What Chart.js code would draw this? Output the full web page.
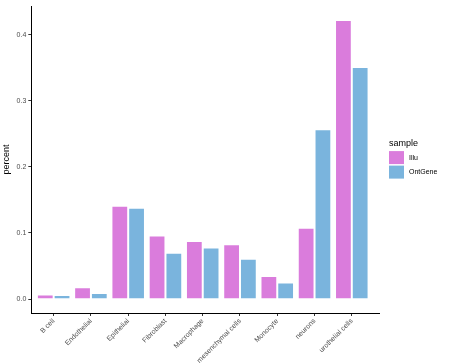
<!DOCTYPE html>
<html>
<head>
<meta charset="utf-8">
<script src="https://cdn.jsdelivr.net/npm/chart.js@4.4.1/dist/chart.umd.min.js"></script>
<style>
  html, body { margin: 0; padding: 0; background: #fff; }
  #wrap { width: 449px; height: 364px; }
</style>
</head>
<body>
<div id="wrap"><canvas id="chart" width="449" height="364"></canvas></div>
<script>
// data
const categories = ["B cell", "Endothelial", "Epithelial", "Fibroblast", "Macrophage",
  "mesenchymal cells", "Monocyte", "neurons", "urothelial cells"];
const illu = [0.007, 0.018, 0.141, 0.096, 0.088, 0.083, 0.035, 0.108, 0.422];
const ontGene = [0.006, 0.009, 0.138, 0.070, 0.078, 0.061, 0.025, 0.257, 0.351];
const yTicks = [0.0, 0.1, 0.2, 0.3, 0.4];

const colIllu = "#da7cdc";
const colOnt = "#7ab4dd";

// legend drawn at the right, like ggplot's guide
const sideLegend = {
  id: "sideLegend",
  afterDraw(chart) {
    const ctx = chart.ctx;
    const area = chart.chartArea;
    const x = area.right + 10;
    const mid = (area.top + area.bottom) / 2;
    let y = mid - 20;
    ctx.save();
    ctx.fillStyle = "#000";
    ctx.font = "9px 'Liberation Sans', Arial, sans-serif";
    ctx.textBaseline = "middle";
    ctx.textAlign = "left";
    ctx.fillText("sample", x, y + 4);
    y += 11;
    chart.data.datasets.forEach(ds => {
      ctx.fillStyle = ds.backgroundColor;
      ctx.fillRect(x, y + 0.5, 15, 13);
      ctx.fillStyle = "#000";
      ctx.font = "7px 'Liberation Sans', Arial, sans-serif";
      ctx.fillText(ds.label, x + 20, y + 7);
      y += 14.5;
    });
    ctx.restore();
  }
};

new Chart(document.getElementById("chart"), {
  type: "bar",
  data: {
    datasets: [
      {
        label: "Illu",
        data: categories.map((c, i) => ({ x: i, y: illu[i] })),
        backgroundColor: colIllu,
        borderColor: "rgba(255,255,255,0.25)",
        borderWidth: 1
      },
      {
        label: "OntGene",
        data: categories.map((c, i) => ({ x: i, y: ontGene[i] })),
        backgroundColor: colOnt,
        borderColor: "rgba(255,255,255,0.25)",
        borderWidth: 1
      }
    ]
  },
  options: {
    responsive: false,
    animation: false,
    devicePixelRatio: 1,
    layout: { padding: { top: 5, right: 70, left: 0, bottom: 0 } },
    categoryPercentage: 0.9,
    barPercentage: 1.0,
    plugins: {
      legend: { display: false },
      tooltip: { enabled: false }
    },
    scales: {
      x: {
        type: "linear",
        offset: false,
        min: -0.6,
        max: 8.73,
        afterBuildTicks: s => { s.ticks = categories.map((c, i) => ({ value: i })); },
        afterFit: s => { s.height = 51; },
        grid: { offset: false, drawOnChartArea: false, drawTicks: true, tickLength: 3, tickColor: "#333" },
        border: { color: "#000", width: 1 },
        ticks: {
          autoSkip: false,
          minRotation: 45,
          maxRotation: 45,
          padding: 1,
          color: "#4d4d4d",
          font: { size: 7, family: "'Liberation Sans', Arial, sans-serif" },
          callback: v => categories[v]
        }
      },
      y: {
        min: -0.0211,
        max: 0.443,
        afterBuildTicks: s => { s.ticks = yTicks.map(v => ({ value: v })); },
        afterFit: s => { s.width = 31.3; },
        grid: { drawOnChartArea: false, drawTicks: true, tickLength: 3, tickColor: "#333" },
        border: { color: "#000", width: 1 },
        ticks: {
          padding: 2,
          color: "#4d4d4d",
          font: { size: 7, family: "'Liberation Sans', Arial, sans-serif" },
          callback: v => v.toFixed(1)
        },
        title: {
          display: true,
          text: "percent",
          color: "#000",
          padding: { top: 1, bottom: 0 },
          font: { size: 9, family: "'Liberation Sans', Arial, sans-serif" }
        }
      }
    }
  },
  plugins: [sideLegend]
});
</script>
</body>
</html>
